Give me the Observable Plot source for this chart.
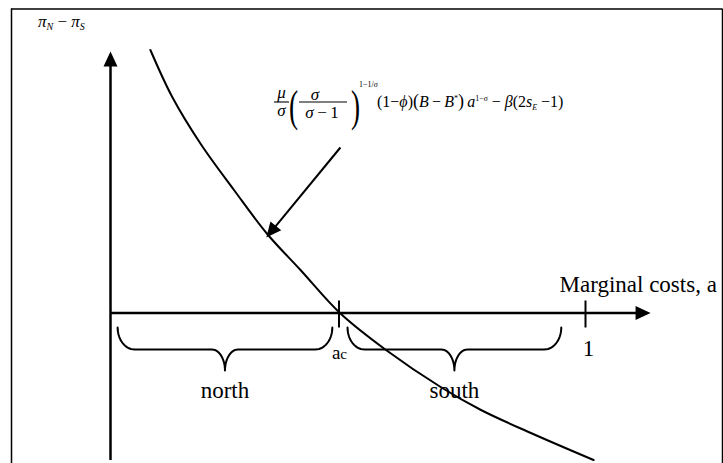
<!DOCTYPE html>
<html><head><meta charset="utf-8">
<script src="https://cdn.jsdelivr.net/npm/d3@7"></script>
<script src="https://cdn.jsdelivr.net/npm/@observablehq/plot@0.6"></script>
<style>html,body{margin:0;padding:0;background:#fff;overflow:hidden} svg{display:block}</style>
</head><body><div id="chart"></div>
<script>
// ---- data (x = marginal costs a, y = πN − πS) ----
const curveA = [0.084, 0.13, 0.19, 0.26, 0.33, 0.40, 0.483, 0.58, 0.695, 0.78, 0.885, 1.017];
const curveV = [2.63, 2.16, 1.69, 1.23, 0.79, 0.43, 0, -0.37, -0.74, -0.97, -1.2, -1.47];

const tickValues = [0.481, 1];
const tickLabels = ["a", "1"];
const regionNames = ["north", "south"];
const regionStart = [0.015, 0.499];
const regionEnd = [0.467, 0.949];
const xAxisTitle = "Marginal costs, a";
const axisTipA = 1.137;
const axisTopV = 2.615;
const axisBottomV = -1.475;
const pointerFrom = [0.484, 1.655];
const pointerTo = [0.328, 0.755];

// ---- scale geometry ----
const KX = 475, KY = 100;               // px per unit
const xDomain = [-110 / KX, 613 / KX];
const yDomain = [-1.505, 3.125];
const border = {left: -99 / KX, right: 612 / KX, top: 3.04};

const curve = curveA.map((a, i) => ({a, v: curveV[i]}));

function bracePoints(a0, a1, name) {
  const top = -0.145, mid = -0.365, tip = -0.575;
  const rx = 17 / KX, rc = 13 / KX, c = (a0 + a1) / 2, N = 14, pts = [];
  for (let k = 0; k <= N; ++k) { const t = k / N * Math.PI / 2; pts.push({a: a0 + rx * (1 - Math.cos(t)), v: top + (mid - top) * Math.sin(t), name}); }
  for (let k = 0; k <= N; ++k) { const t = k / N * Math.PI / 2; pts.push({a: c - rc + rc * Math.sin(t), v: mid + (tip - mid) * (1 - Math.cos(t)), name}); }
  for (let k = N; k >= 0; --k) { const t = k / N * Math.PI / 2; pts.push({a: c + rc - rc * Math.sin(t), v: mid + (tip - mid) * (1 - Math.cos(t)), name}); }
  for (let k = N; k >= 0; --k) { const t = k / N * Math.PI / 2; pts.push({a: a1 - rx * (1 - Math.cos(t)), v: top + (mid - top) * Math.sin(t), name}); }
  return pts;
}
const braces = regionNames.flatMap((n, i) => bracePoints(regionStart[i], regionEnd[i], n));

function head(angleDeg, len = 15, half = 7) {
  const r = angleDeg * Math.PI / 180, c = Math.cos(r), s = Math.sin(r);
  const P = (x, y) => [x * c - y * s, x * s + y * c];
  return {draw(ctx) { const p1 = P(-len, -half), p2 = P(-len, half); ctx.moveTo(0, 0); ctx.lineTo(p1[0], p1[1]); ctx.lineTo(p2[0], p2[1]); ctx.closePath(); }};
}
const pdx = (pointerTo[0] - pointerFrom[0]) * KX, pdy = -(pointerTo[1] - pointerFrom[1]) * KY;
const pAngle = Math.atan2(pdy, pdx) * 180 / Math.PI;
const pLen = Math.hypot(pdx, pdy);
const pointerEnd = [pointerFrom[0] + (pointerTo[0] - pointerFrom[0]) * (pLen - 10) / pLen,
                    pointerFrom[1] + (pointerTo[1] - pointerFrom[1]) * (pLen - 10) / pLen];

const serif = "'Liberation Serif','Times New Roman',serif";

const plot = Plot.plot({
  width: 723, height: 463, margin: 0,
  x: {domain: xDomain, axis: null},
  y: {domain: yDomain, axis: null},
  style: {fontFamily: serif, background: "#fff", color: "#000", overflow: "hidden"},
  marks: [
    // frame
    Plot.ruleX([border.left, border.right], {y1: yDomain[0], y2: border.top, stroke: "#000", strokeWidth: 1.5}),
    Plot.ruleY([border.top], {x1: border.left, x2: border.right, stroke: "#000", strokeWidth: 1.5}),
    // axes
    Plot.ruleX([0], {y1: axisBottomV, y2: axisTopV - 0.1, stroke: "#000", strokeWidth: 2.5}),
    Plot.ruleY([0], {x1: 0, x2: axisTipA - 10 / KX, stroke: "#000", strokeWidth: 2.5}),
    Plot.dot([0], {x: () => 0, y: () => axisTopV, symbol: head(-90), fill: "#000", stroke: "none"}),
    Plot.dot([0], {x: () => axisTipA, y: () => 0, symbol: head(0), fill: "#000", stroke: "none"}),
    // ticks
    Plot.ruleX(tickValues, {y1: -0.15, y2: 0.12, stroke: "#000", strokeWidth: 2}),
    // curve
    Plot.line(curve, {x: "a", y: "v", curve: "catmull-rom", stroke: "#000", strokeWidth: 2}),
    // pointer arrow
    Plot.link([0], {x1: () => pointerFrom[0], y1: () => pointerFrom[1], x2: () => pointerEnd[0], y2: () => pointerEnd[1], stroke: "#000", strokeWidth: 2}),
    Plot.dot([0], {x: () => pointerTo[0], y: () => pointerTo[1], symbol: head(pAngle), fill: "#000", stroke: "none"}),
    // braces
    Plot.line(braces, {x: "a", y: "v", z: "name", stroke: "#000", strokeWidth: 2, curve: "linear"}),
    // labels
    Plot.text(regionNames, {x: (d, i) => (regionStart[i] + regionEnd[i]) / 2, y: () => -0.845, text: d => d, fontSize: 23, lineAnchor: "bottom", fill: "#000"}),
    Plot.text([tickLabels[1]], {x: () => tickValues[1], y: () => -0.425, dx: 3, text: d => d, fontSize: 23, lineAnchor: "bottom", fill: "#000"}),
    Plot.text([xAxisTitle], {x: () => 449 / KX, y: () => 0.215, text: d => d, fontSize: 23, textAnchor: "start", lineAnchor: "bottom", fill: "#000"})
  ]
});
document.getElementById("chart").append(plot);

// ---- rich math text, placed through the plot's scales ----
const sx = plot.scale("x"), sy = plot.scale("y");
const svg = d3.select(plot);
const X = a => sx.apply(a), Y = v => sy.apply(v);

// a_c tick label
const ac = svg.append("text").attr("x", X(tickValues[0]) + 1).attr("y", Y(-0.467)).attr("text-anchor", "middle").attr("font-family", serif);
ac.append("tspan").attr("font-size", 19).text(tickLabels[0]);
ac.append("tspan").attr("font-size", 15).text("c");

// y-axis label πN − πS
const yl = svg.append("text").attr("x", X(-0.1516)).attr("y", Y(2.855)).attr("text-anchor", "start").attr("font-family", serif).attr("font-size", 17);
yl.append("tspan").attr("font-style", "italic").text("π");
yl.append("tspan").attr("font-size", 10).attr("font-style", "italic").attr("dy", 3).text("N");
yl.append("tspan").attr("dy", -3).text("\u2005−\u2005");
yl.append("tspan").attr("font-style", "italic").text("π");
yl.append("tspan").attr("font-size", 10).attr("font-style", "italic").attr("dy", 3).text("S");

// formula
const fx = X(164 / KX), fy = Y(2.055);
const g = svg.append("g").attr("transform", `translate(${fx},${fy})`).attr("font-family", serif).attr("font-size", 17).attr("fill", "#000").attr("text-anchor", "start");
const txt = (x, y, s, o = {}) => g.append("text").attr("x", x).attr("y", y).attr("text-anchor", o.anchor || "start").attr("font-style", o.italic ? "italic" : null).attr("font-size", o.size || null).text(s);
txt(7.5, -9, "μ", {anchor: "middle", italic: 1});
g.append("line").attr("x1", 0).attr("x2", 15).attr("y1", -5).attr("y2", -5).attr("stroke", "#000").attr("stroke-width", 1.1);
txt(7.5, 9, "σ", {anchor: "middle", italic: 1});
g.append("g").attr("transform", "translate(15,13.5) scale(0.62,1)").append("text").attr("text-anchor", "start").attr("font-size", 44).text("(");
txt(41, -7, "σ", {anchor: "middle", italic: 1});
g.append("line").attr("x1", 25).attr("x2", 73).attr("y1", -5).attr("y2", -5).attr("stroke", "#000").attr("stroke-width", 1.1);
const den = g.append("text").attr("x", 48).attr("y", 10.5).attr("text-anchor", "middle");
den.append("tspan").attr("font-style", "italic").text("σ");
den.append("tspan").text("\u2009−\u20091");
g.append("g").attr("transform", "translate(77,13.5) scale(0.62,1)").append("text").attr("text-anchor", "start").attr("font-size", 44).text(")");
const ex = g.append("text").attr("x", 85).attr("y", -20).attr("font-size", 8).attr("text-anchor", "start");
ex.append("tspan").text("1−1/");
ex.append("tspan").attr("font-style", "italic").text("σ");

const segs = [
  {t: "(1−"}, {t: "ϕ", i: 1}, {t: ")"}, {t: "(", fs: 18}, {t: "B", i: 1}, {t: "\u2009−\u2009"}, {t: "B", i: 1},
  {t: "*", sh: -6, fs: 8}, {t: ")", fs: 18}, {t: "\u2009"}, {t: "a", i: 1}, {t: "1−", sh: -6, fs: 8}, {t: "σ", sh: -6, fs: 8, i: 1},
  {t: "\u2005−\u2005"}, {t: "β", i: 1}, {t: "(2"}, {t: "s", i: 1}, {t: "E", sh: 3, fs: 8, i: 1}, {t: "\u2005−1)"}
];
const ml = g.append("text").attr("x", 103).attr("y", 0).attr("font-size", 16).attr("text-anchor", "start");
let cur = 0;
for (const s of segs) {
  const sh = s.sh || 0;
  const ts = ml.append("tspan").attr("dy", sh - cur).text(s.t);
  cur = sh;
  if (s.i) ts.attr("font-style", "italic");
  if (s.fs) ts.attr("font-size", s.fs);
}
</script>
</body></html>
